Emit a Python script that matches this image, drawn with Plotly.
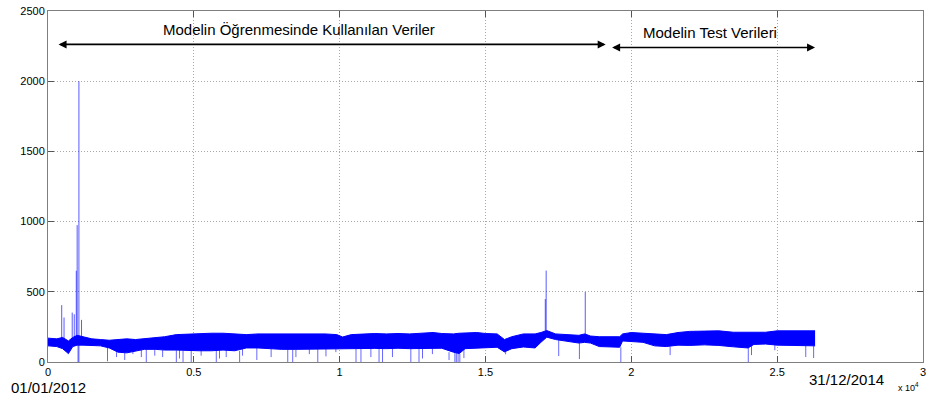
import plotly.graph_objects as go

# ---- data ----
band_x = [0, 300, 500, 700, 850, 1000, 1200, 1500, 1800, 2100, 2400, 2700, 3000, 3300, 3700,
          4000, 4400, 4800, 5200, 5600, 6000, 6400, 6800, 7200, 7600, 8000, 8500, 9000, 9500,
          9900, 10100, 10400, 10800, 11200, 11600, 12000, 12400, 12800, 13200, 13500, 13900,
          14100, 14300, 14700, 15000, 15400, 15650, 15900, 16300, 16700, 16900, 17100, 17400,
          17800, 18200, 18400, 18600, 18900, 19300, 19600, 19700, 20000, 20400, 20800, 21200,
          21600, 22000, 22500, 23000, 23500, 24000, 24200, 24600, 25000, 25500, 26000, 26300]
band_hi = [170, 165, 175, 150, 175, 190, 180, 165, 160, 155, 160, 165, 160, 165, 170,
           180, 195, 200, 205, 205, 205, 200, 195, 200, 200, 205, 205, 205, 200,
           195, 178, 195, 200, 203, 200, 203, 200, 205, 210, 203, 200,
           205, 208, 210, 203, 200, 160, 180, 200, 200, 210, 224, 200,
           195, 190, 200, 185, 180, 178, 180, 200, 210, 205, 200, 195,
           210, 218, 220, 222, 212, 210, 212, 212, 222, 224, 224, 222]
band_lo = [115, 110, 95, 60, 110, 120, 120, 120, 115, 100, 70, 65, 80, 90, 90,
           85, 85, 80, 80, 80, 85, 80, 100, 100, 95, 90, 90, 92, 95,
           95, 95, 95, 95, 97, 95, 98, 95, 98, 98, 98, 70,
           60, 95, 98, 100, 105, 72, 95, 107, 100, 140, 177, 160,
           150, 135, 140, 135, 110, 105, 105, 150, 145, 140, 115, 110,
           120, 118, 122, 118, 108, 100, 125, 128, 120, 120, 118, 115]

down_x = [695, 1030, 2040, 2350, 2630, 2910, 3200, 3370, 3660, 3930, 4400, 4510, 4630, 4910,
          5250, 5770, 5880, 6110, 6570, 6670, 7160, 7650, 8220, 8390, 8500, 8960, 9250, 9530,
          9870, 10560, 10730, 11070, 11350, 11470, 11810, 12440, 12720, 12840, 13180, 13750,
          13950, 14000, 14060, 14120, 14260, 15690, 17510, 18220, 19640, 21330, 24010, 24120,
          24920, 25980, 26250]
down_y = [56, 0, 5, 35, 14, 56, 35, 0, 45, 35, 0, 25, 0, 0,
          45, 0, 25, 35, 0, 45, 14, 35, 0, 0, 35, 56, 0, 40,
          70, 0, 0, 35, 0, 0, 35, 0, 0, 25, 56, 14,
          0, 0, 0, 0, 28, 55, 42, 21, 0, 49, 0, 49,
          84, 35, 28]

up_x = [470, 550, 830, 900, 970, 1000, 1060, 1150, 17050, 17080, 18420]
up_base = [150, 150, 150, 150, 150, 150, 0, 160, 200, 200, 190]
up_y = [405, 317, 352, 340, 650, 975, 2000, 300, 448, 651, 499]

x_ticks = [0, 5000, 10000, 15000, 20000, 25000, 30000]
x_tick_labels = ["0", "0.5", "1", "1.5", "2", "2.5", "3"]
y_ticks = [0, 500, 1000, 1500, 2000, 2500]

train_label = "Modelin Öğrenmesinde Kullanılan Veriler"
test_label = "Modelin Test Verileri"
start_label = "01/01/2012"
end_label = "31/12/2014"

train_range = [310, 19120]
test_range = [19290, 26300]

BLUE = "rgb(0,0,255)"
FONT = "Liberation Sans, Arial, Helvetica, sans-serif"

fig = go.Figure()

# band (envelope of the dense series)
fig.add_trace(go.Scatter(x=band_x, y=band_lo, mode="lines", line=dict(color=BLUE, width=1),
                         showlegend=False, hoverinfo="skip"))
fig.add_trace(go.Scatter(x=band_x, y=band_hi, mode="lines", line=dict(color=BLUE, width=1),
                         fill="tonexty", fillcolor=BLUE, showlegend=False, hoverinfo="skip"))

# downward spikes
dx, dy = [], []
for i, xv in enumerate(down_x):
    j = min(range(len(band_x)), key=lambda k: abs(band_x[k] - xv))
    dx += [xv, xv, None]
    dy += [band_lo[j], down_y[i], None]
fig.add_trace(go.Scatter(x=dx, y=dy, mode="lines", line=dict(color="rgba(0,0,255,0.6)", width=1),
                         showlegend=False, hoverinfo="skip"))

# upward spikes
ux, uy = [], []
for i, xv in enumerate(up_x):
    ux += [xv, xv, None]
    uy += [up_base[i], up_y[i], None]
fig.add_trace(go.Scatter(x=ux, y=uy, mode="lines", line=dict(color="rgba(0,0,255,0.65)", width=1),
                         showlegend=False, hoverinfo="skip"))

axis_common = dict(showline=True, linecolor="#7f7f7f", linewidth=1, mirror="ticks",
                   ticks="inside", ticklen=6, tickcolor="#555", zeroline=False,
                   showgrid=True, gridcolor="#a8a8a8", griddash="1px,2px", gridwidth=1,
                   ticklabeloverflow="allow",
                   tickfont=dict(family=FONT, size=11, color="black"))

fig.update_xaxes(range=[0, 30000], tickvals=x_ticks, ticktext=x_tick_labels, **axis_common)
fig.update_yaxes(range=[0, 2500], tickvals=y_ticks, **axis_common)


def paper_text(px, py, text, size):
    return dict(x=(px - 48) / 877, y=(362 - py) / 357, xref="paper", yref="paper", text=text,
                showarrow=False, xanchor="center", yanchor="middle",
                font=dict(family=FONT, size=size, color="black"))


annotations = [
    dict(x=train_range[1], y=2262, ax=train_range[0], ay=2262, xref="x", yref="y",
         axref="x", ayref="y", showarrow=True, arrowhead=2, startarrowhead=2,
         arrowside="end+start", arrowsize=1, arrowwidth=1.6, arrowcolor="black", text=""),
    dict(x=test_range[1], y=2240, ax=test_range[0], ay=2240, xref="x", yref="y",
         axref="x", ayref="y", showarrow=True, arrowhead=2, startarrowhead=2,
         arrowside="end+start", arrowsize=1, arrowwidth=1.6, arrowcolor="black", text=""),
    dict(x=8600, y=2370, xref="x", yref="y", text=train_label, showarrow=False,
         xanchor="center", yanchor="middle",
         font=dict(family=FONT, size=15, color="black")),
    dict(x=22700, y=2345, xref="x", yref="y", text=test_label, showarrow=False,
         xanchor="center", yanchor="middle",
         font=dict(family=FONT, size=15, color="black")),
    paper_text(49, 388, start_label, 15),
    paper_text(848, 380, end_label, 15),
    paper_text(910, 387, "x 10<sup>4</sup>", 9),
]

fig.update_layout(width=931, height=405, margin=dict(l=48, r=6, t=5, b=43),
                  plot_bgcolor="white", paper_bgcolor="white", annotations=annotations,
                  showlegend=False)

fig.write_html("out.html")
